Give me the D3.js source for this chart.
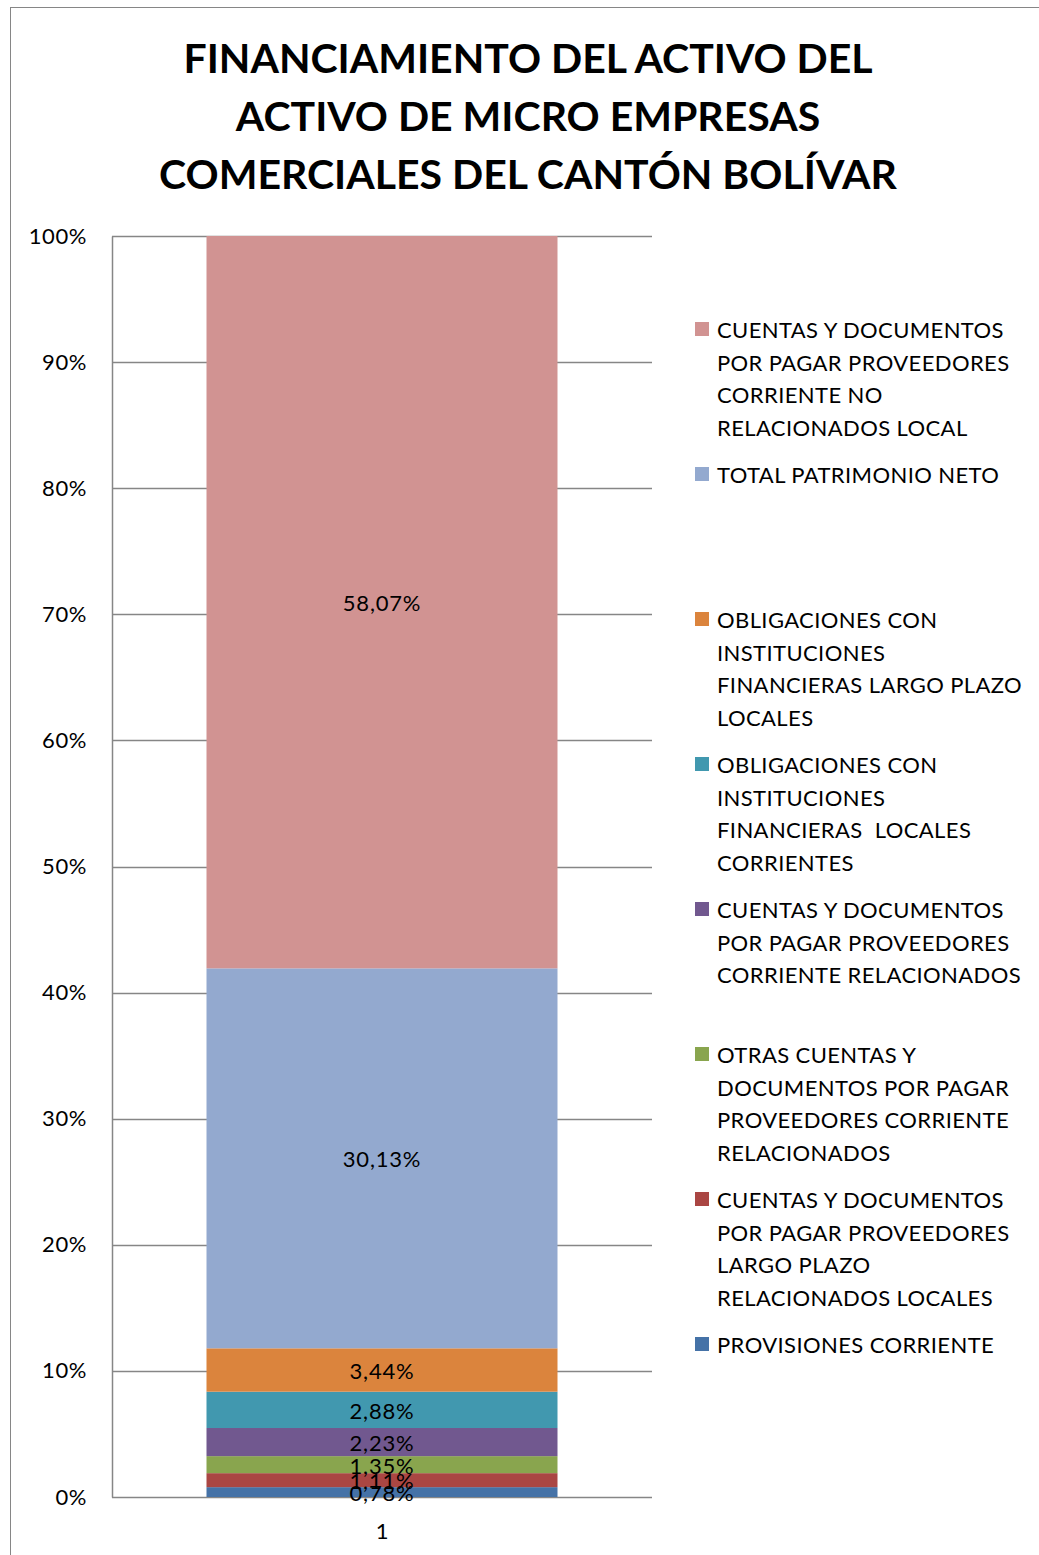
<!DOCTYPE html>
<html>
<head>
<meta charset="utf-8">
<script src="https://cdn.jsdelivr.net/npm/d3@7"></script>
<style>
  body { margin: 0; background: #fff; }
  svg { display: block; font-family: Lato, "Open Sans", sans-serif; }
</style>
</head>
<body>
<svg id="chart"></svg>
<script>
let width = 1039;
let height = 1555;
let svg = d3.select("#chart").attr("width", width).attr("height", height);

// datos (de abajo hacia arriba en la barra)
let categories = ["1"];
let seriesNames = [
  "PROVISIONES CORRIENTE",
  "CUENTAS Y DOCUMENTOS POR PAGAR PROVEEDORES LARGO PLAZO RELACIONADOS LOCALES",
  "OTRAS CUENTAS Y DOCUMENTOS POR PAGAR PROVEEDORES CORRIENTE RELACIONADOS",
  "CUENTAS Y DOCUMENTOS POR PAGAR PROVEEDORES CORRIENTE RELACIONADOS",
  "OBLIGACIONES CON INSTITUCIONES FINANCIERAS  LOCALES CORRIENTES",
  "OBLIGACIONES CON INSTITUCIONES FINANCIERAS LARGO PLAZO LOCALES",
  "TOTAL PATRIMONIO NETO",
  "CUENTAS Y DOCUMENTOS POR PAGAR PROVEEDORES CORRIENTE NO RELACIONADOS LOCAL"
];
let seriesValues = [0.78, 1.11, 1.35, 2.23, 2.88, 3.44, 30.13, 58.07];
let seriesLabels = ["0,78%", "1,11%", "1,35%", "2,23%", "2,88%", "3,44%", "30,13%", "58,07%"];
let colors = ["#4572A7", "#AA4643", "#89A54E", "#71588F", "#4198AF", "#DB843D", "#93A9CF", "#D19392"];
// líneas de la leyenda (como en Excel)
let legendLines = [
  ["PROVISIONES CORRIENTE"],
  ["CUENTAS Y DOCUMENTOS", "POR PAGAR PROVEEDORES", "LARGO PLAZO", "RELACIONADOS LOCALES"],
  ["OTRAS CUENTAS Y", "DOCUMENTOS POR PAGAR", "PROVEEDORES CORRIENTE", "RELACIONADOS"],
  ["CUENTAS Y DOCUMENTOS", "POR PAGAR PROVEEDORES", "CORRIENTE RELACIONADOS"],
  ["OBLIGACIONES CON", "INSTITUCIONES", "FINANCIERAS  LOCALES", "CORRIENTES"],
  ["OBLIGACIONES CON", "INSTITUCIONES", "FINANCIERAS LARGO PLAZO", "LOCALES"],
  ["TOTAL PATRIMONIO NETO"],
  ["CUENTAS Y DOCUMENTOS", "POR PAGAR PROVEEDORES", "CORRIENTE NO", "RELACIONADOS LOCAL"]
];
let yTicks = [0, 0.1, 0.2, 0.3, 0.4, 0.5, 0.6, 0.7, 0.8, 0.9, 1];
let titleLines = ["FINANCIAMIENTO DEL ACTIVO DEL", "ACTIVO DE MICRO EMPRESAS", "COMERCIALES DEL CANTÓN BOLÍVAR"];

// marco del gráfico
svg.append("rect")
  .attr("x", 10.5).attr("y", 7.5)
  .attr("width", 1040).attr("height", 1560)
  .attr("fill", "none").attr("stroke", "#868686").attr("stroke-width", 1);

// título
svg.append("g").selectAll("text")
  .data(titleLines)
  .join("text")
  .attr("x", 528)
  .attr("y", (d, i) => 73 + i * 58)
  .attr("text-anchor", "middle")
  .style("font-size", "41px")
  .style("font-weight", "bold")
  .text(d => d);

let margin = { left: 112, right: 652, top: 236, bottom: 1497 };

let x = d3.scaleBand().domain(categories).range([margin.left, margin.right]).paddingInner(0.35).paddingOuter(0.175);
let total = d3.sum(seriesValues);
let y = d3.scaleLinear().domain([0, 1]).range([margin.bottom, margin.top]);

// líneas de cuadrícula
svg.append("g")
  .selectAll("line")
  .data(yTicks)
  .join("line")
  .attr("x1", margin.left).attr("x2", margin.right)
  .attr("y1", d => Math.round(y(d)) + 0.5).attr("y2", d => Math.round(y(d)) + 0.5)
  .attr("stroke", "#868686").attr("stroke-width", 1.5);

// eje y
let yAxis = svg.append("g")
  .attr("transform", `translate(${margin.left},0)`)
  .call(d3.axisLeft(y).tickValues(yTicks).tickFormat(d3.format(".0%")).tickSize(0).tickPadding(25));
yAxis.select(".domain").attr("stroke", "#868686").attr("stroke-width", 1.5);
yAxis.selectAll("text").style("font-size", "22px").style("letter-spacing", "0.6px")
  .style("font-family", "Lato, sans-serif").attr("fill", "#000");

// barras apiladas
let stackData = [];
let acc = 0;
seriesValues.forEach((v, i) => {
  stackData.push({ y0: acc / total, y1: (acc + v) / total, color: colors[i], label: seriesLabels[i], cat: categories[0] });
  acc += v;
});

let bars = svg.append("g");
bars.selectAll("rect")
  .data(stackData)
  .join("rect")
  .attr("x", d => x(d.cat))
  .attr("width", x.bandwidth())
  .attr("y", d => y(d.y1))
  .attr("height", d => y(d.y0) - y(d.y1))
  .attr("fill", d => d.color);

// eje x (sin línea propia, la cuadrícula del 0% hace de base)
let xAxis = svg.append("g")
  .attr("transform", `translate(0,${margin.bottom})`)
  .call(d3.axisBottom(x).tickSize(0).tickPadding(26));
xAxis.select(".domain").remove();
xAxis.selectAll("text").style("font-size", "22px").style("font-family", "Lato, sans-serif").attr("fill", "#000");

// etiquetas de datos
bars.selectAll("text")
  .data(stackData)
  .join("text")
  .attr("x", d => x(d.cat) + x.bandwidth() / 2)
  .attr("y", d => (y(d.y0) + y(d.y1)) / 2 + 9)
  .attr("text-anchor", "middle")
  .style("font-size", "22px")
  .style("letter-spacing", "0.8px")
  .text(d => d.label);

// leyenda
let legend = svg.append("g");
let legendOrder = d3.range(seriesNames.length).reverse();
legendOrder.forEach((si, k) => {
  let top = 330 + k * 145;
  let g = legend.append("g");
  g.append("rect")
    .attr("x", 695).attr("y", top - 8)
    .attr("width", 14).attr("height", 14)
    .attr("fill", colors[si]);
  g.selectAll("text")
    .data(legendLines[si])
    .join("text")
    .attr("x", 717)
    .attr("y", (d, i) => top + 8 + i * 32.6)
    .style("font-size", "22px")
    .style("letter-spacing", "0.4px")
    .style("white-space", "pre")
    .text(d => d);
});
</script>
</body>
</html>
